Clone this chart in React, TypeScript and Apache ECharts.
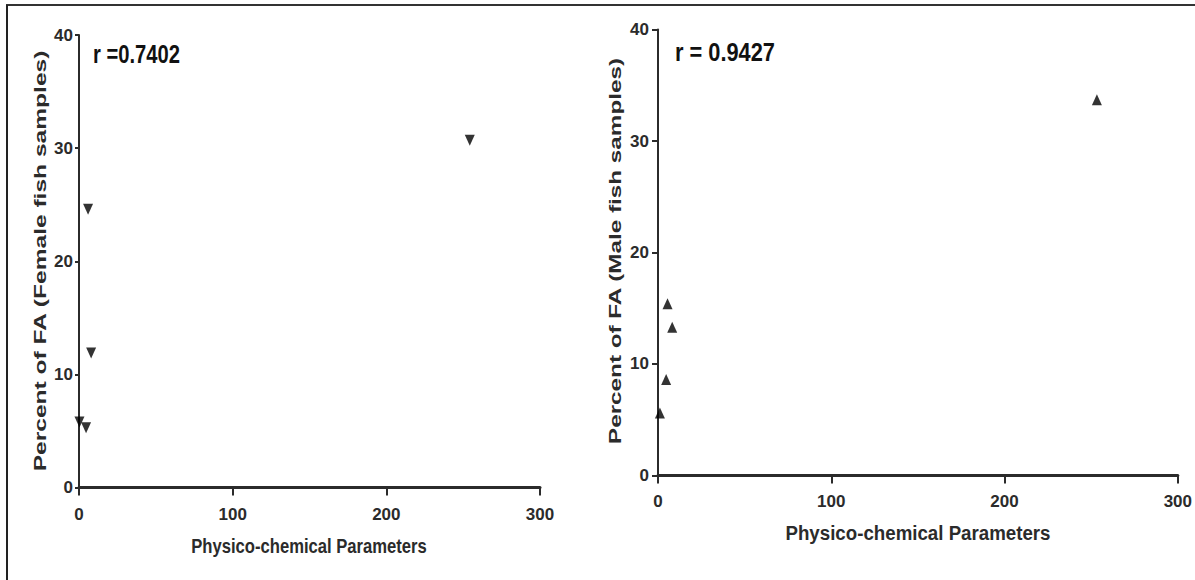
import React, { useEffect, useRef } from "react";
import * as echarts from "echarts";

const femaleX = [254.3, 5.9, 7.9, 0.3, 4.6];
const femaleY = [30.7, 24.6, 11.9, 5.8, 5.3];
const maleX = [253.3, 5.5, 8.2, 4.7, 1.1];
const maleY = [33.7, 15.4, 13.3, 8.6, 5.6];
const xTicks = { min: 0, max: 300, interval: 100 };
const yTicks = { min: 0, max: 40, interval: 10 };
const rLeft = "r =0.7402";
const rRight = "r = 0.9427";
const yTitleLeft = "Percent of FA (Female fish samples)";
const yTitleRight = "Percent of FA (Male fish samples)";
const xTitle = "Physico-chemical Parameters";

const TICK_FONT = "'Liberation Sans', Arial, sans-serif";
const TEXT_FONT = "'Liberation Sans', Arial, sans-serif";
const INK = "#2b2b2b";

function measure(text: string, size: number): number {
  const c = document.createElement("canvas").getContext("2d");
  if (!c) return text.length * size * 0.55;
  c.font = `bold ${size}px 'Liberation Sans', Arial, sans-serif`;
  return c.measureText(text).width;
}

function fitText(text: string, cx: number, cy: number, length: number, size: number, rotate: boolean) {
  const w = measure(text, size);
  return {
    type: "text",
    x: cx,
    y: cy,
    rotation: rotate ? Math.PI / 2 : 0,
    scaleX: length / w,
    scaleY: 1,
    style: {
      text,
      fontFamily: TEXT_FONT,
      fontWeight: "bold",
      fontSize: size,
      fill: INK,
      align: "center",
      verticalAlign: "middle",
    },
    silent: true,
  };
}

function fitTextLeft(text: string, x: number, cy: number, length: number, size: number) {
  const w = measure(text, size);
  return {
    type: "text",
    x,
    y: cy,
    scaleX: length / w,
    style: {
      text,
      fontFamily: TEXT_FONT,
      fontWeight: "bold",
      fontSize: size,
      fill: "#111",
      align: "left",
      verticalAlign: "middle",
    },
    silent: true,
  };
}

function makeAxes(gridIndex: number, yMargin: number, yTickLen: number) {
  const x = {
    type: "value",
    gridIndex,
    ...xTicks,
    axisLine: { show: true, onZero: false, lineStyle: { color: INK, width: 3 } },
    axisTick: { show: true, length: 8, lineStyle: { color: INK, width: 2 } },
    axisLabel: { margin: 18, color: INK, fontFamily: TICK_FONT, fontWeight: "bold", fontSize: 17 },
    splitLine: { show: false },
  };
  const y = {
    type: "value",
    gridIndex,
    ...yTicks,
    axisLine: { show: true, onZero: false, lineStyle: { color: INK, width: 2 } },
    axisTick: { show: true, length: yTickLen, lineStyle: { color: INK, width: 2 } },
    axisLabel: { margin: yMargin, color: INK, fontFamily: TICK_FONT, fontWeight: "bold", fontSize: 17 },
    splitLine: { show: false },
  };
  return { x, y };
}

export default function App() {
  const ref = useRef<HTMLDivElement>(null);
  useEffect(() => {
    if (!ref.current) return;
    const chart = echarts.init(ref.current, undefined, { renderer: "svg" });
    const a1 = makeAxes(0, 6, 4);
    const a2 = makeAxes(1, 9, 6);
    const option: any = {
      animation: false,
      backgroundColor: "#ffffff",
      grid: [
        { left: 79, top: 35, width: 461, height: 452.6 },
        { left: 658, top: 29.6, width: 520.6, height: 445.8 },
      ],
      xAxis: [a1.x, a2.x],
      yAxis: [a1.y, a2.y],
      series: [
        {
          type: "scatter",
          name: "Female",
          xAxisIndex: 0,
          yAxisIndex: 0,
          symbol: "triangle",
          symbolRotate: 180,
          symbolSize: [10, 11],
          itemStyle: { color: "#000" },
          data: femaleX.map((v, i) => [v, femaleY[i]]),
        },
        {
          type: "scatter",
          name: "Male",
          xAxisIndex: 1,
          yAxisIndex: 1,
          symbol: "triangle",
          symbolSize: [10, 11],
          itemStyle: { color: "#000" },
          data: maleX.map((v, i) => [v, maleY[i]]),
        },
      ],
      graphic: [
        { type: "line", shape: { x1: 6, y1: 5, x2: 1195, y2: 5 }, style: { stroke: "#333", lineWidth: 2 }, silent: true },
        { type: "line", shape: { x1: 7, y1: 5, x2: 7, y2: 580 }, style: { stroke: "#222", lineWidth: 2 }, silent: true },
        fitText(yTitleLeft, 40, 261, 422, 16, true),
        fitText(yTitleRight, 615, 251, 387, 16, true),
        fitText(xTitle, 309, 546, 236, 20, false),
        fitText(xTitle, 918, 533, 265, 20, false),
        fitTextLeft(rLeft, 93, 54, 87, 25),
        fitTextLeft(rRight, 675, 52, 100, 25),
      ],
    };
    chart.setOption(option);
    return () => chart.dispose();
  }, []);
  return <div ref={ref} style={{ position: "fixed", left: 0, top: 0, width: 1195, height: 580 }} />;
}
